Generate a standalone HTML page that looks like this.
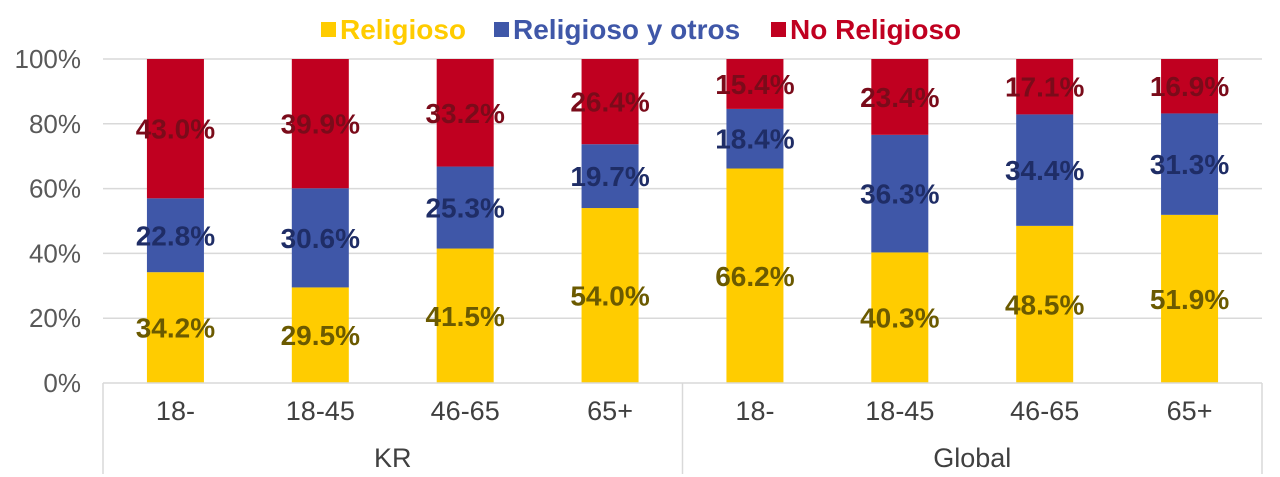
<!DOCTYPE html>
<html><head><meta charset="utf-8"><style>
body{margin:0;background:#fff;}
svg{display:block;font-family:"Liberation Sans",Arial,sans-serif;}
</style></head><body>
<svg id="chart" width="1280" height="477">
<g id="legend">
 <g><rect x="321" y="22" width="15" height="15" fill="#FFCC00"/><text x="340" y="39" font-size="28" font-weight="bold" fill="#FFCC00">Religioso</text></g>
 <g><rect x="494" y="22" width="15" height="15" fill="#3F57A8"/><text x="513" y="39" font-size="28" font-weight="bold" fill="#3F57A8">Religioso y otros</text></g>
 <g><rect x="771" y="22" width="15" height="15" fill="#C00020"/><text x="790" y="39" font-size="28" font-weight="bold" fill="#C00020">No Religioso</text></g>
</g>
<g id="grid"></g><g id="bars"></g><g id="axes"></g>
</svg>
<script>
const categories=["18-","18-45","46-65","65+","18-","18-45","46-65","65+"];
const groups=["KR","Global"];
const religioso=[34.2,29.5,41.5,54.0,66.2,40.3,48.5,51.9];
const religiosoYOtros=[22.8,30.6,25.3,19.7,18.4,36.3,34.4,31.3];
const noReligioso=[43.0,39.9,33.2,26.4,15.4,23.4,17.1,16.9];
const yTicks=[0,20,40,60,80,100];
const NS="http://www.w3.org/2000/svg";
const L=103,R=1262,T=59,B=383;
const step=(R-L)/categories.length, bw=57;
const y=v=>B-(v/100)*(B-T);
const xc=i=>L+step*(i+0.5);
function mk(tag,attrs,parent,txt){const e=document.createElementNS(NS,tag);for(const k in attrs)e.setAttribute(k,attrs[k]);if(txt!==undefined)e.textContent=txt;parent.appendChild(e);return e;}
const grid=document.getElementById('grid'),bars=document.getElementById('bars'),axes=document.getElementById('axes');
yTicks.forEach(t=>{
 if(t>0){const g=mk('line',{x1:L,x2:R,y1:y(t),y2:y(t),stroke:'#d9d9d9','stroke-width':1.5},grid);
 
 }
 const lb=mk('text',{x:81,y:y(t)+9,'text-anchor':'end','font-size':26,fill:'#595959'},axes,t+'%');
 
 
});
const series=[[religioso,'#FFCC00','#6b5a00','religioso'],[religiosoYOtros,'#3F57A8','#1f2d66','religioso-y-otros'],[noReligioso,'#C00020','#7a0b1a','no-religioso']];
categories.forEach((c,i)=>{
 let base=0;
 series.forEach(([arr,col,lc,nm])=>{
  const v=arr[i],top=Math.min(100,base+v);
  const r=mk('rect',{x:xc(i)-bw/2,y:y(top),width:bw,height:y(base)-y(top),fill:col},bars);
  
  
  const t=mk('text',{x:xc(i),y:(y(base)+y(top))/2+10,'text-anchor':'middle','font-size':28,'font-weight':'bold',fill:lc},bars,v.toFixed(1)+'%');
  
  
  base=top;
 });
 const cl=mk('text',{x:xc(i),y:420,'text-anchor':'middle','font-size':27,fill:'#404040'},axes,c);
 
 
});
mk('line',{x1:L,x2:R,y1:B,y2:B,stroke:'#d9d9d9','stroke-width':1.5},axes);
[0,4,8].forEach(k=>{const x=L+step*k;const l=mk('line',{x1:x,x2:x,y1:B,y2:474,stroke:'#d9d9d9','stroke-width':1.5},axes);
 
 });
groups.forEach((g,j)=>{const t=mk('text',{x:L+step*(j*4+2),y:467,'text-anchor':'middle','font-size':27,fill:'#404040'},axes,g);
 
 });
</script>
</body></html>
